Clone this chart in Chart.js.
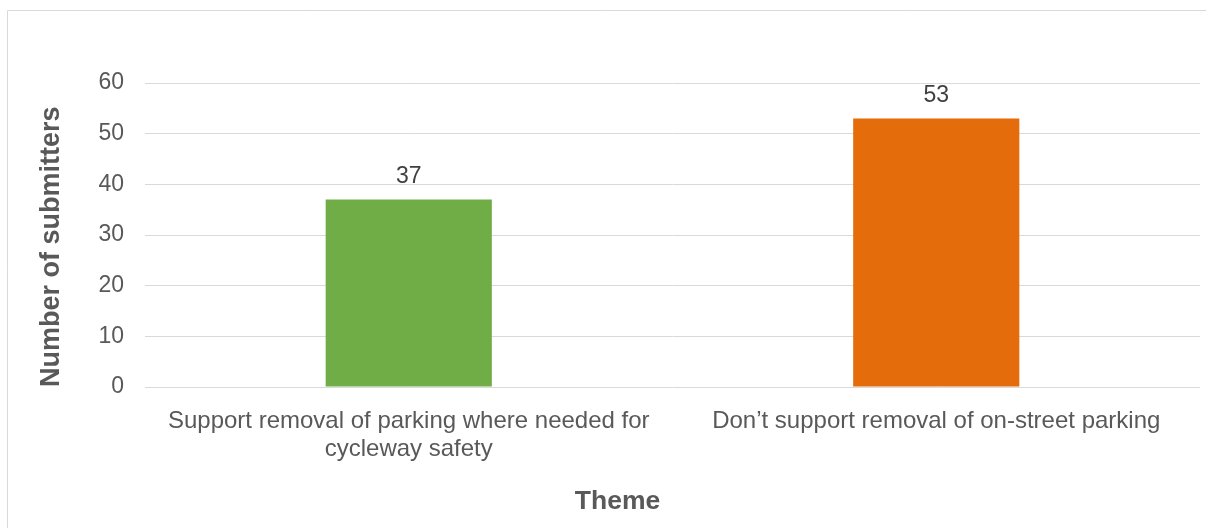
<!DOCTYPE html>
<html>
<head>
<meta charset="utf-8">
<title>Number of submitters by theme</title>
<script src="https://cdn.jsdelivr.net/npm/chart.js@4/dist/chart.umd.min.js"></script>
<style>
    html, body { margin: 0; padding: 0; background: #ffffff; overflow: hidden; }
    #chart { display: block; }
</style>
</head>
<body>
<canvas id="chart" width="1206" height="528"></canvas>
<script>
const categories = [
    ["Support removal of parking where needed for", "cycleway safety"],
    "Don\u2019t support removal of on-street parking"
];
const submitters = [37, 53];
const barColors = ["#70ad47", "#e46c0a"];
const yTicks = [0, 10, 20, 30, 40, 50, 60];

const FONT = "'Liberation Sans', Arial, sans-serif";
const GREY = "#595959";

document.addEventListener("DOMContentLoaded", () => {
    renderChart();
});

// thin grey frame along the top and left of the chart
const chartFrame = {
    id: "chartFrame",
    beforeDraw(chart) {
        const ctx = chart.ctx;
        ctx.save();
        ctx.strokeStyle = "#d9d9d9";
        ctx.lineWidth = 1;
        ctx.beginPath();
        ctx.moveTo(7.5, chart.height);
        ctx.lineTo(7.5, 10.5);
        ctx.lineTo(chart.width, 10.5);
        ctx.stroke();
        ctx.restore();
    }
};

// value printed above each bar
const barValues = {
    id: "barValues",
    afterDatasetsDraw(chart) {
        const ctx = chart.ctx;
        const meta = chart.getDatasetMeta(0);
        const values = chart.data.datasets[0].data;
        ctx.save();
        ctx.font = "23px " + FONT;
        ctx.fillStyle = "#404040";
        ctx.textAlign = "center";
        ctx.textBaseline = "alphabetic";
        meta.data.forEach((bar, i) => {
            ctx.fillText(String(values[i]), bar.x, bar.y - 16.5);
        });
        ctx.restore();
    }
};

function renderChart() {
    const ctx = document.getElementById("chart").getContext("2d");

    new Chart(ctx, {
        type: "bar",
        data: {
            labels: categories,
            datasets: [{
                data: submitters,
                backgroundColor: barColors,
                borderWidth: 0,
                categoryPercentage: 1,
                barPercentage: 0.315
            }]
        },
        options: {
            responsive: false,
            animation: false,
            devicePixelRatio: 1,
            layout: {
                padding: { left: 35, top: 83, right: 6, bottom: 10.4 }
            },
            plugins: {
                legend: { display: false },
                tooltip: { enabled: false },
                title: {
                    display: true,
                    text: "Theme",
                    position: "bottom",
                    align: "center",
                    color: GREY,
                    padding: 0,
                    font: { family: FONT, size: 26.5, weight: "bold", lineHeight: 31.2 / 26.5 }
                }
            },
            scales: {
                x: {
                    grid: { display: false },
                    border: { display: false },
                    ticks: {
                        color: GREY,
                        padding: 12.4,
                        maxRotation: 0,
                        autoSkip: false,
                        font: { family: FONT, size: 24, lineHeight: 28 / 24 }
                    },
                    afterFit(scale) {
                        scale.height = 99.4;
                    }
                },
                y: {
                    min: 0,
                    max: 60,
                    afterBuildTicks(scale) {
                        scale.ticks = yTicks.map(v => ({ value: v }));
                    },
                    grid: { color: "#d9d9d9", lineWidth: 1, drawTicks: false },
                    border: { display: false },
                    ticks: {
                        color: GREY,
                        padding: 21,
                        font: { family: FONT, size: 23 }
                    },
                    title: {
                        display: true,
                        text: "Number of submitters",
                        align: "start",
                        color: GREY,
                        padding: 0,
                        font: { family: FONT, size: 27, weight: "bold", lineHeight: 1.2 }
                    },
                    afterFit(scale) {
                        scale.width = 110;
                    }
                }
            }
        },
        plugins: [chartFrame, barValues]
    });
}
</script>
</body>
</html>
